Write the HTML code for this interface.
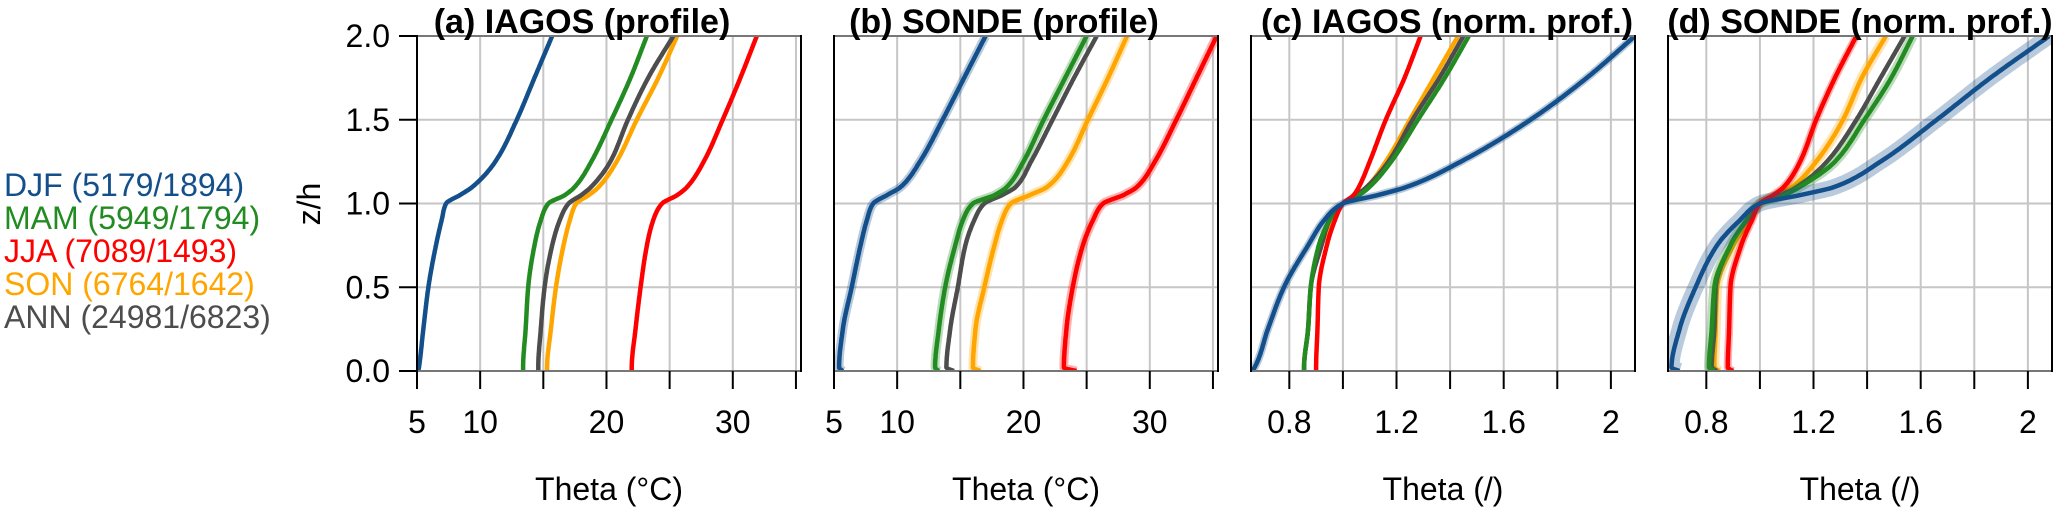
<!DOCTYPE html>
<html><head><meta charset="utf-8"><style>
html,body{margin:0;padding:0;background:#fff;}
svg{display:block;font-family:"Liberation Sans",Arial,sans-serif;}
</style></head><body>
<svg id="chart" width="2067" height="511" viewBox="0 0 2067 511"></svg>
<script>
const zLevels=[0,0.02,0.25,0.5,0.75,0.9,1.0,1.05,1.1,1.25,1.5,1.75,2.0];
const seriesNames=["DJF","MAM","JJA","SON","ANN"];
const legendLabels=["DJF (5179/1894)","MAM (5949/1794)","JJA (7089/1493)","SON (6764/1642)","ANN (24981/6823)"];
const aDJF=[5.1,5.15,5.5,5.9,6.5,6.95,7.3,8.4,9.4,11.2,12.9,14.3,15.7];
const aMAM=[13.4,13.4,13.6,13.8,14.3,14.8,15.4,16.7,17.5,18.8,20.4,21.9,23.2];
const aJJA=[22.0,22.0,22.3,22.7,23.2,23.7,24.4,25.6,26.4,27.7,29.2,30.6,31.9];
const aSON=[15.3,15.3,15.6,16.0,16.6,17.1,17.6,18.6,19.4,20.8,22.4,24.1,25.6];
const aANN=[14.6,14.6,14.8,15.1,15.7,16.3,17.0,18.0,18.8,20.3,21.7,23.3,25.3];
const bDJF=[5.7,5.4,5.7,6.4,7.1,7.6,8.1,9.2,10.3,11.8,13.6,15.3,17.0];
const bMAM=[13.3,13.0,13.3,13.8,14.6,15.2,16.0,17.7,18.7,20.0,21.6,23.3,25.0];
const bJJA=[24.2,23.2,23.4,23.9,24.7,25.5,26.3,27.9,29.0,30.4,32.1,33.7,35.3];
const bSON=[16.6,16.0,16.2,16.9,17.7,18.3,19.0,20.5,21.9,23.5,25.1,26.7,28.2];
const bANN=[14.5,13.9,14.2,14.8,15.4,16.1,16.9,18.3,19.4,20.6,22.3,24.0,25.8];
const cDJF=[0.66,0.67,0.72,0.78,0.87,0.93,1.0,1.13,1.24,1.44,1.70,1.91,2.09];
const cMAM=[0.855,0.855,0.87,0.88,0.91,0.95,1.0,1.06,1.10,1.18,1.28,1.38,1.47];
const cJJA=[0.90,0.90,0.905,0.91,0.94,0.97,1.0,1.04,1.06,1.10,1.16,1.23,1.29];
const cSON=[0.855,0.855,0.87,0.88,0.92,0.96,1.0,1.05,1.09,1.16,1.25,1.34,1.43];
const cANN=[0.855,0.855,0.87,0.88,0.92,0.95,1.0,1.05,1.09,1.17,1.26,1.36,1.45];
const dDJF=[0.70,0.67,0.70,0.76,0.84,0.925,1.0,1.15,1.28,1.45,1.66,1.86,2.08];
const dMAM=[0.83,0.81,0.82,0.83,0.89,0.95,1.0,1.09,1.15,1.28,1.39,1.49,1.57];
const dJJA=[0.90,0.88,0.885,0.89,0.93,0.97,1.0,1.05,1.09,1.15,1.21,1.28,1.36];
const dSON=[0.85,0.83,0.835,0.84,0.90,0.96,1.0,1.06,1.12,1.21,1.31,1.38,1.47];
const dANN=[0.84,0.82,0.83,0.835,0.89,0.95,1.0,1.08,1.14,1.25,1.36,1.45,1.54];
const yTicks=[0,0.5,1.0,1.5,2.0];
const yTickLabels=["0.0","0.5","1.0","1.5","2.0"];
const absTicks=[5,10,15,20,25,30,35];
const absTickLabels=["5","10","","20","","30",""];
const normTicks=[0.8,1.0,1.2,1.4,1.6,1.8,2.0];
const normTickLabels=["0.8","","1.2","","1.6","","2"];

const colors={DJF:"#134f8a",MAM:"#228b22",JJA:"#ff0000",SON:"#ffa500",ANN:"#4d4d4d"};
const NS="http://www.w3.org/2000/svg";
const svg=document.getElementById("chart");
function mk(tag,attrs,parent){const e=document.createElementNS(NS,tag);for(const k in attrs)e.setAttribute(k,attrs[k]);(parent||svg).appendChild(e);return e;}
const TOP=36,BOT=371,W=384,FS=32;
const panels=[
 {key:"a",left:417,tdx:-27,dom:[5,35.4],title:"(a) IAGOS (profile)",xlab:"Theta (°C)",ticks:absTicks,tl:absTickLabels,data:{DJF:aDJF,MAM:aMAM,JJA:aJJA,SON:aSON,ANN:aANN},band:{DJF:0,MAM:0,JJA:0,SON:0,ANN:0}},
 {key:"b",left:834,tdx:-22,dom:[5,35.4],title:"(b) SONDE (profile)",xlab:"Theta (°C)",ticks:absTicks,tl:absTickLabels,data:{DJF:bDJF,MAM:bMAM,JJA:bJJA,SON:bSON,ANN:bANN},band:{DJF:9,MAM:9,JJA:9,SON:9,ANN:0}},
 {key:"c",left:1251,tdx:4,dom:[0.657,2.09],title:"(c) IAGOS (norm. prof.)",xlab:"Theta (/)",ticks:normTicks,tl:normTickLabels,data:{DJF:cDJF,MAM:cMAM,JJA:cJJA,SON:cSON,ANN:cANN},band:{DJF:8,MAM:0,JJA:0,SON:0,ANN:0}},
 {key:"d",left:1668,tdx:0,dom:[0.657,2.09],title:"(d) SONDE (norm. prof.)",xlab:"Theta (/)",ticks:normTicks,tl:normTickLabels,data:{DJF:dDJF,MAM:dMAM,JJA:dJJA,SON:dSON,ANN:dANN},band:{DJF:16,MAM:10,JJA:8,SON:10,ANN:0}}
];
function yS(z){return BOT-(z/2)*(BOT-TOP);}
function monoSample(zs,vs,n){
 const k=zs.length,h=[],dl=[],m=new Array(k);
 for(let i=0;i<k-1;i++){h[i]=zs[i+1]-zs[i];dl[i]=(vs[i+1]-vs[i])/h[i];}
 m[0]=dl[0];m[k-1]=dl[k-2];
 for(let i=1;i<k-1;i++){
  if(dl[i-1]*dl[i]<=0)m[i]=0;
  else{const w1=2*h[i]+h[i-1],w2=h[i]+2*h[i-1];m[i]=(w1+w2)/(w1/dl[i-1]+w2/dl[i]);}
 }
 const out=[];
 for(let s=0;s<=n;s++){
  const z=zs[0]+(zs[k-1]-zs[0])*s/n;
  let i=0;while(i<k-2&&z>zs[i+1])i++;
  const t=(z-zs[i])/h[i],t2=t*t,t3=t2*t;
  const v=(2*t3-3*t2+1)*vs[i]+(t3-2*t2+t)*h[i]*m[i]+(-2*t3+3*t2)*vs[i+1]+(t3-t2)*h[i]*m[i+1];
  out.push([z,v]);
 }
 return out;
}
function txt(x,y,s,attrs,parent){
 const t=mk("text",Object.assign({x:x,y:y,"font-size":FS,fill:"#000"},attrs||{}),parent);
 t.textContent=s;return t;
}
const drawOrder=["SON","ANN","MAM","JJA","DJF"];
panels.forEach(p=>{
 const g=mk("g",{});
 
 
 const xS=v=>p.left+(v-p.dom[0])/(p.dom[1]-p.dom[0])*W;
 const clipId="clip"+p.key;
 const cp=mk("clipPath",{id:clipId},g);mk("rect",{x:p.left,y:TOP,width:W,height:BOT-TOP},cp);
 p.ticks.forEach(t=>{const l=mk("line",{x1:xS(t),x2:xS(t),y1:TOP,y2:BOT,stroke:"#c6c6c6","stroke-width":2},g);});
 yTicks.forEach(t=>{const l=mk("line",{x1:p.left,x2:p.left+W,y1:yS(t),y2:yS(t),stroke:"#c6c6c6","stroke-width":2},g);});
 const sg=mk("g",{"clip-path":"url(#"+clipId+")"},g);
 drawOrder.forEach(s=>{
  const smp=monoSample(zLevels,p.data[s],300);
  const d="M"+smp.map(q=>xS(q[1]).toFixed(1)+","+yS(q[0]).toFixed(1)).join(" L");
  if(p.band[s]>0){const b=mk("path",{d:d,fill:"none",stroke:colors[s],"stroke-opacity":0.3,"stroke-width":p.band[s],"stroke-linejoin":"round"},sg);}
  const l=mk("path",{d:d,fill:"none",stroke:colors[s],"stroke-width":4.5,"stroke-linejoin":"round"},sg);
  
  
 });
 mk("line",{x1:p.left,x2:p.left+W,y1:TOP,y2:TOP,stroke:"#777","stroke-width":2},g);
 mk("line",{x1:p.left,x2:p.left+W,y1:BOT,y2:BOT,stroke:"#777","stroke-width":2},g);
 mk("line",{x1:p.left,x2:p.left,y1:TOP-1,y2:BOT+1,stroke:"#000","stroke-width":2},g);
 mk("line",{x1:p.left+W,x2:p.left+W,y1:TOP-1,y2:BOT+1,stroke:"#000","stroke-width":2},g);
 p.ticks.forEach((t,i)=>{
  mk("line",{x1:xS(t),x2:xS(t),y1:BOT,y2:BOT+18,stroke:"#000","stroke-width":2},g);
  if(p.tl[i]){const tx=txt(xS(t),433,p.tl[i],{"text-anchor":"middle"},g);}
 });
 const xl=txt(p.left+W/2,500,p.xlab,{"text-anchor":"middle"},g);
 
 const ti=txt(p.left+W/2+p.tdx,33,p.title,{"text-anchor":"middle","font-weight":"bold","font-size":34},g);
 
});
yTicks.forEach((t,i)=>{
 mk("line",{x1:399,x2:417,y1:yS(t),y2:yS(t),stroke:"#000","stroke-width":2});
 const tx=txt(390,yS(t)+11,yTickLabels[i],{"text-anchor":"end"});
 
 
});
const yl=txt(0,0,"z/h",{"text-anchor":"middle",transform:"translate(320,204) rotate(-90)"});


const legY=[196,229,262,295,328];
seriesNames.forEach((s,i)=>{
 const tx=txt(4,legY[i],legendLabels[i],{fill:colors[s]});
 
 
});
</script>
</body></html>
